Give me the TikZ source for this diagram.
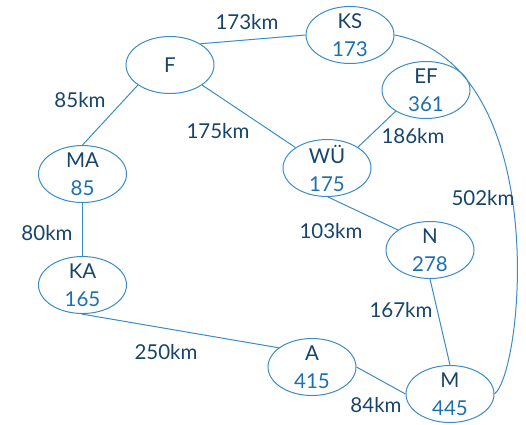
\documentclass[tikz,border=0pt]{standalone}
\usepackage{fontspec}
\setmainfont{Lato}
\usetikzlibrary{shapes.geometric}
\definecolor{navy}{RGB}{22,68,108}
\definecolor{numblue}{RGB}{30,112,172}
\definecolor{edgeblue}{RGB}{58,140,198}
\begin{document}
\begin{tikzpicture}[x=1pt,y=-1pt,
  city/.style={ellipse, draw=edgeblue, line width=1pt, minimum width=88pt,
    minimum height=57pt, inner sep=0pt, label={[citytext]center:#1}},
  citytext/.style={align=center, text=navy, inner sep=0pt,
    font=\fontsize{20.5}{28}\selectfont},
  km/.style={text=navy, inner sep=0pt, font=\fontsize{20.5}{24}\selectfont},
  road/.style={draw=edgeblue, line width=1pt}]
\useasboundingbox (0,0) rectangle (526,424);
% cities
\node[city={F}] (F) at (170,65) {};
\node[city={KS\\\textcolor{numblue}{173}}] (KS) at (350,35) {};
\node[city={EF\\\textcolor{numblue}{361}}] (EF) at (426,90) {};
\node[city={WÜ\\\textcolor{numblue}{175}}] (WU) at (327,168) {};
\node[city={MA\\\textcolor{numblue}{85}}] (MA) at (82.5,174) {};
\node[city={KA\\\textcolor{numblue}{165}}] (KA) at (82.5,285) {};
\node[city={N\\\textcolor{numblue}{278}}] (N) at (430,250) {};
\node[city={A\\\textcolor{numblue}{415}}] (A) at (312,367) {};
\node[city={M\\\textcolor{numblue}{445}}] (M) at (450,394) {};
% roads
\draw[road] (F.35) -- (KS.180);
\draw[road] (F.212) -- (MA.north);
\draw[road] (F.-32) -- (WU.147);
\draw[road] (WU.34) -- (EF.215);
\draw[road] (WU.-88) -- (N.148);
\draw[road] (MA.south) -- (KA.north);
\draw[road] (KA.-92) -- (A.150);
\draw[road] (A.0) -- (M.180);
\draw[road] (N.-90) -- (M.90);
\draw[road] (KS.east) .. controls (552,65) and (524,370) .. (M.east);
% distances
\node[km] (d1) at (247,22) {173km};
\node[km] (d2) at (80,100) {85km};
\node[km] (d3) at (218,131) {175km};
\node[km] (d4) at (413,136) {186km};
\node[km] (d5) at (483,198) {502km};
\node[km] (d6) at (331,231) {103km};
\node[km] (d7) at (401,310) {167km};
\node[km] (d8) at (47,233) {80km};
\node[km] (d9) at (166,352) {250km};
\node[km] (d10) at (376,405) {84km};
\end{tikzpicture}
\end{document}
